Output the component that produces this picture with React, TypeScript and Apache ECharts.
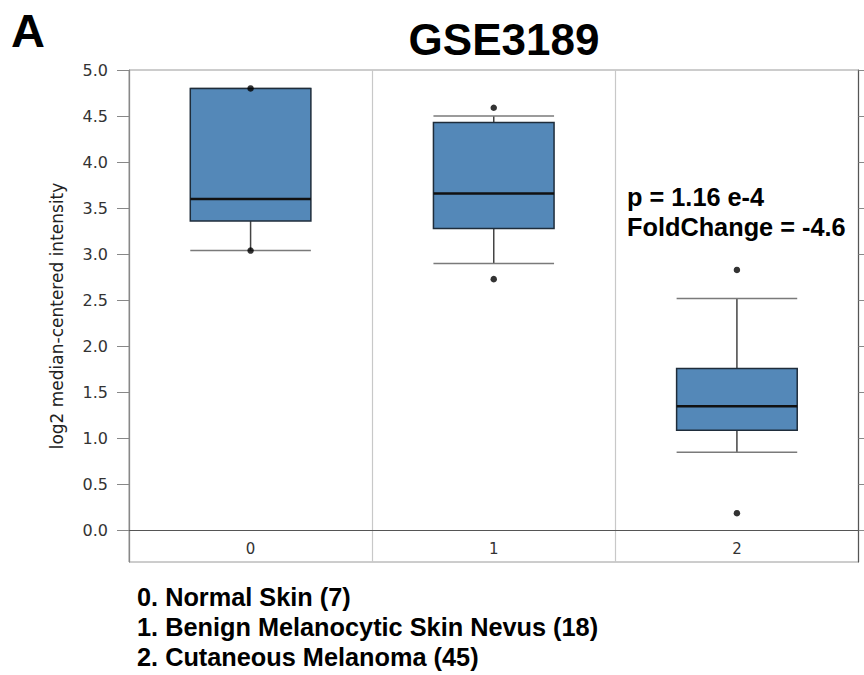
import React, { useEffect, useRef } from "react";
import * as echarts from "echarts";

const categories = ["0", "1", "2"];
// [low whisker, Q1, median, Q3, high whisker]
const boxStats = [
  [3.04, 3.36, 3.6, 4.8, 4.8],
  [2.9, 3.28, 3.66, 4.43, 4.5],
  [0.85, 1.09, 1.35, 1.76, 2.52],
];
const pointGroups = [0, 0, 1, 1, 2, 2];
const pointValues = [4.8, 3.04, 4.59, 2.73, 2.83, 0.19];
const tickValues = [0, 0.5, 1, 1.5, 2, 2.5, 3, 3.5, 4, 4.5, 5];
const legendLines = [
  "0. Normal Skin (7)",
  "1. Benign Melanocytic Skin Nevus (18)",
  "2. Cutaneous Melanoma (45)",
];
const titleText = "GSE3189";
const panelLetter = "A";
const statLines = ["p = 1.16 e-4", "FoldChange = -4.6"];
const yAxisName = "log2 median-centered intensity";

const BOLD = "'Liberation Sans', Arial, Helvetica, sans-serif";
const SANS = "'DejaVu Sans', Verdana, sans-serif";

export default function App() {
  const ref = useRef<HTMLDivElement>(null);
  useEffect(() => {
    if (!ref.current) return;
    const chart = echarts.init(ref.current, null, { renderer: "svg" });
    const boxData = boxStats.map((s, i) => [i, ...s]);
    const pts = pointGroups.map((g, i) => [g, pointValues[i]]);
    const option: any = {
      animation: false,
      backgroundColor: "#fff",
      grid: {
        left: 129,
        top: 70,
        right: 5.5,
        bottom: 113,
        show: true,
        borderColor: "#9a9a9a",
        borderWidth: 1,
        backgroundColor: "#fff",
      },
      xAxis: {
        type: "category",
        data: categories,
        boundaryGap: true,
        axisLine: { show: true, lineStyle: { color: "#555", width: 1.2 } },
        axisTick: { show: false },
        axisLabel: {
          inside: true,
          margin: 13,
          verticalAlign: "middle",
          fontFamily: SANS,
          fontSize: 15,
          color: "#333",
        },
        splitLine: { show: true, lineStyle: { color: "#c8c8c8", width: 1.2 } },
      },
      yAxis: [
        {
          type: "value",
          min: -0.34,
          max: 5,
          position: "left",
          axisLine: { show: true, lineStyle: { color: "#888", width: 1.2 } },
          axisTick: {
            show: true,
            length: 12,
            customValues: tickValues,
            lineStyle: { color: "#888" },
          },
          axisLabel: {
            customValues: tickValues,
            formatter: (v: number) => v.toFixed(1),
            margin: 21,
            fontFamily: SANS,
            fontSize: 16,
            color: "#333",
          },
          splitLine: { show: false },
          name: yAxisName,
          nameLocation: "middle",
          nameGap: 64,
          nameTextStyle: { fontFamily: SANS, fontSize: 17, color: "#222" },
        },
        {
          type: "value",
          min: -0.34,
          max: 5,
          position: "right",
          axisLine: { show: true, lineStyle: { color: "#555", width: 1.2 } },
          axisTick: {
            show: true,
            length: 12,
            customValues: tickValues,
            lineStyle: { color: "#888" },
          },
          axisLabel: { show: false },
          splitLine: { show: false },
        },
      ],
      series: [
        {
          type: "custom",
          data: boxData,
          z: 3,
          renderItem: (params: any, api: any) => {
            const x = api.value(0);
            const low = api.coord([x, api.value(1)]);
            const q1 = api.coord([x, api.value(2)]);
            const med = api.coord([x, api.value(3)]);
            const q3 = api.coord([x, api.value(4)]);
            const high = api.coord([x, api.value(5)]);
            const bw = api.size([1, 0])[0];
            const half = bw * 0.248;
            const cx = low[0];
            return {
              type: "group",
              children: [
                {
                  type: "line",
                  shape: { x1: cx, y1: high[1], x2: cx, y2: q3[1] },
                  style: { stroke: "#444", lineWidth: 1.5 },
                },
                {
                  type: "line",
                  shape: { x1: cx, y1: q1[1], x2: cx, y2: low[1] },
                  style: { stroke: "#444", lineWidth: 1.5 },
                },
                {
                  type: "line",
                  shape: { x1: cx - half, y1: high[1], x2: cx + half, y2: high[1] },
                  style: { stroke: "#7a7a7a", lineWidth: 1.5 },
                },
                {
                  type: "line",
                  shape: { x1: cx - half, y1: low[1], x2: cx + half, y2: low[1] },
                  style: { stroke: "#7a7a7a", lineWidth: 1.5 },
                },
                {
                  type: "rect",
                  shape: { x: cx - half, y: q3[1], width: half * 2, height: q1[1] - q3[1] },
                  style: { fill: "#5488b8", stroke: "#1f2d3b", lineWidth: 1.5 },
                },
                {
                  type: "line",
                  shape: { x1: cx - half, y1: med[1], x2: cx + half, y2: med[1] },
                  style: { stroke: "#111", lineWidth: 2.6 },
                },
              ],
            };
          },
        },
        {
          type: "scatter",
          data: pts,
          symbol: "circle",
          symbolSize: 6.5,
          itemStyle: { color: "#000" },
          z: 5,
          markLine: {
            silent: true,
            symbol: "none",
            label: { show: false },
            lineStyle: { color: "#555", width: 1.2, type: "solid" },
            data: [{ yAxis: 0 }],
          },
        },
      ],
      graphic: [
        {
          type: "text",
          style: {
            text: panelLetter,
            x: 11,
            y: 30,
            font: `bold 47px ${BOLD}`,
            fill: "#000",
            textVerticalAlign: "middle",
          },
        },
        {
          type: "text",
          style: {
            text: titleText,
            x: 504,
            y: 39,
            font: `bold 44px ${BOLD}`,
            fill: "#000",
            textAlign: "center",
            textVerticalAlign: "middle",
          },
        },
        ...statLines.map((t, i) => ({
          type: "text",
          z: 10,
          style: {
            text: t,
            x: 627,
            y: 197 + i * 29.7,
            font: `bold 25.3px ${BOLD}`,
            fill: "#000",
            textVerticalAlign: "middle",
          },
        })),
        ...legendLines.map((t, i) => ({
          type: "text",
          style: {
            text: t,
            x: 137,
            y: 597 + i * 30.2,
            font: `bold 25.3px ${BOLD}`,
            fill: "#000",
            textVerticalAlign: "middle",
          },
        })),
      ],
    };
    chart.setOption(option);
    return () => chart.dispose();
  }, []);
  return (
    <div
      ref={ref}
      style={{ position: "fixed", left: 0, top: 0, width: 864, height: 675, background: "#fff" }}
    />
  );
}
